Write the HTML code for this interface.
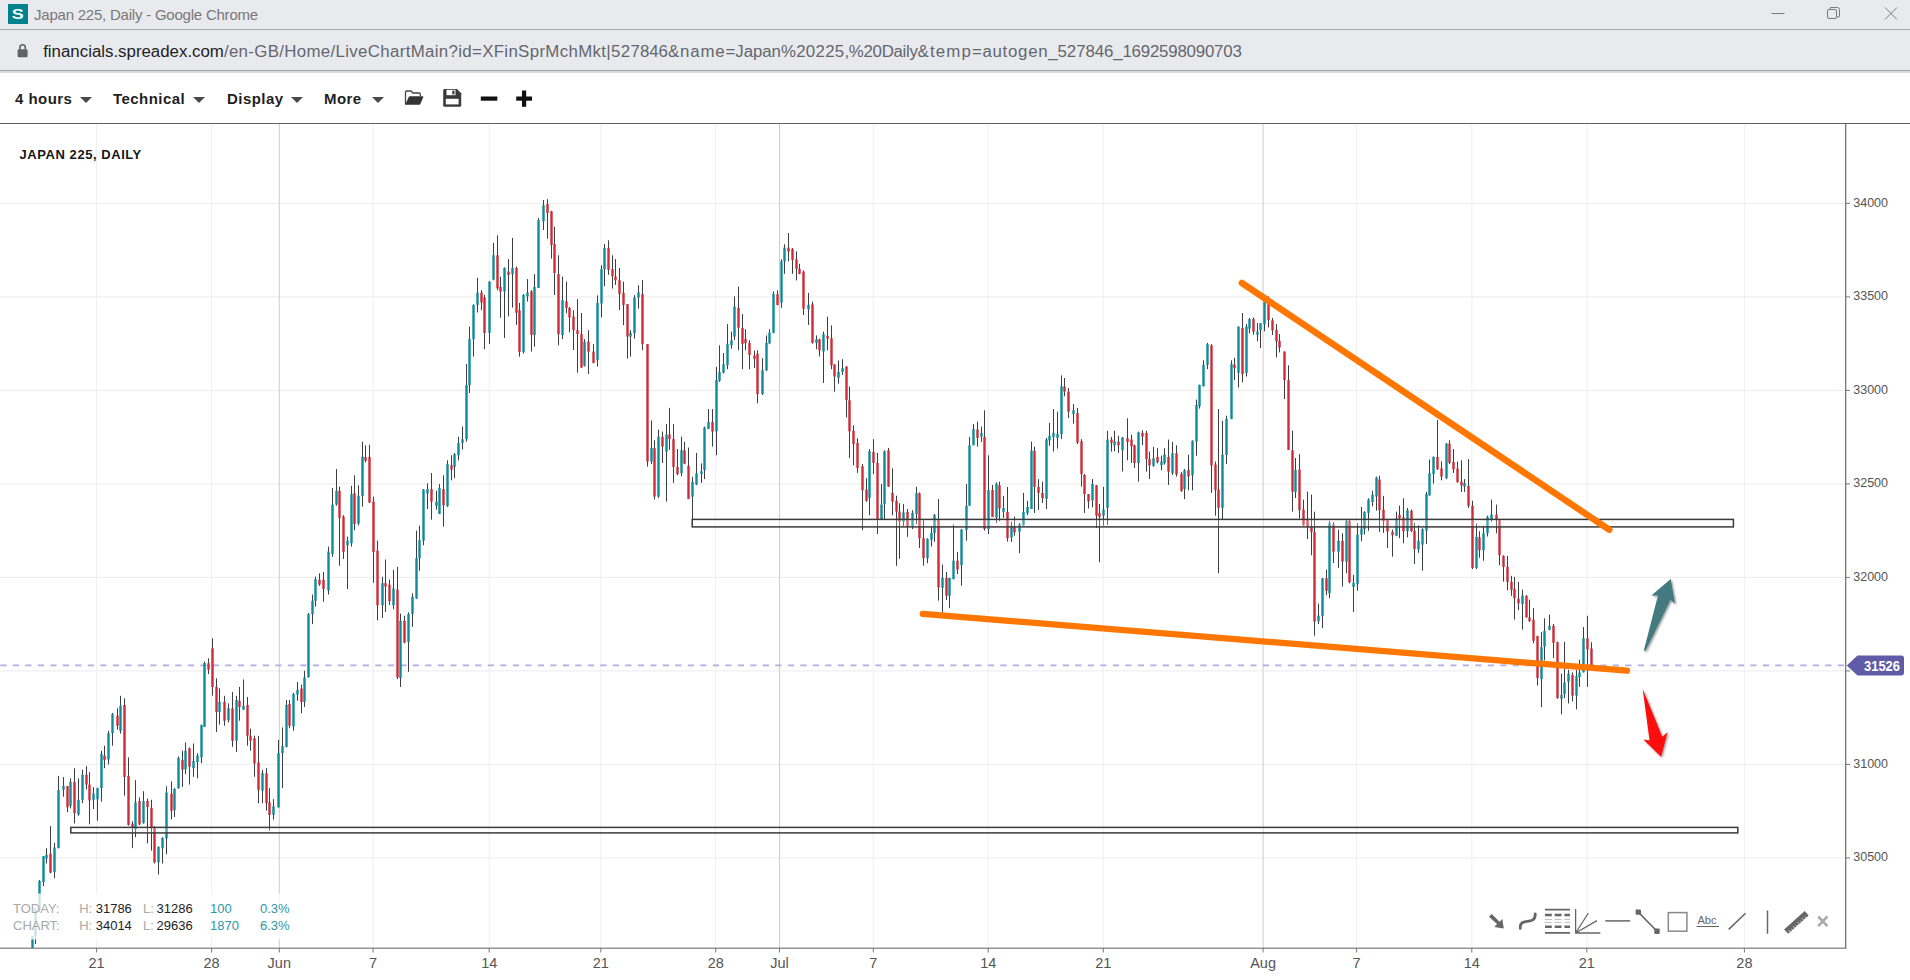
<!DOCTYPE html>
<html lang="en"><head><meta charset="utf-8"><title>Japan 225, Daily</title>
<style>
html,body{margin:0;padding:0;background:#fff;}
body{width:1910px;height:980px;overflow:hidden;position:relative;font-family:"Liberation Sans",sans-serif;}
#tb{position:absolute;left:0;top:0;width:1910px;height:29px;background:#e8eaee;border-bottom:1px solid #a9aaad;}
#fav{position:absolute;left:8px;top:4px;width:20px;height:20px;background:#00838f;color:#fff;font-weight:bold;font-size:14.6px;line-height:20.6px;text-align:center;}
#fav span{display:inline-block;transform:scaleX(1.26);}
#ttext{position:absolute;left:34px;top:5px;letter-spacing:-0.22px;font-size:15px;line-height:19px;color:#787878;white-space:nowrap;}
#ub{position:absolute;left:0;top:30px;width:1910px;height:40.3px;background:#e9eaee;border-bottom:1.1px solid #a3a4a7;}
#ub2{position:absolute;left:0;top:71.4px;width:1910px;height:1.2px;background:#dadbde;z-index:2;}
#url{position:absolute;left:43px;top:11px;font-size:16.85px;line-height:22px;color:#63676d;white-space:nowrap;left:43.2px}
#url b{font-weight:normal;color:#1f2125;letter-spacing:0px}
#tools{position:absolute;left:0;top:72px;width:1910px;height:51px;background:#fff;border-bottom:1.4px solid #606060;}
.mi{position:absolute;top:18px;letter-spacing:0.45px;font-weight:bold;font-size:15px;line-height:18px;color:#1f1f1f;white-space:nowrap;}
.car{position:absolute;top:25px;width:0;height:0;border-left:6px solid transparent;border-right:6px solid transparent;border-top:6.5px solid #4a4a4a;}
#chart{position:absolute;left:0;top:0;}
.yl{font:13.7px "Liberation Sans",sans-serif;fill:#555;}
.xl{font:14.5px "Liberation Sans",sans-serif;fill:#555;}
.pt{font:bold 14.3px "Liberation Sans",sans-serif;fill:#fff;}
.ttl{font:bold 13px "Liberation Sans",sans-serif;fill:#151515;letter-spacing:0.55px}
.st{font:13px "Liberation Sans",sans-serif;}
</style></head><body>
<div id="tb"><div id="fav"><span>S</span></div><div id="ttext">Japan 225, Daily - Google Chrome</div>
<svg style="position:absolute;left:1760px;top:0" width="150" height="29" viewBox="0 0 150 29" fill="none" stroke="#7a7a7a" stroke-width="1"><path d="M11.5 13.5H24.5"/><rect x="67.5" y="9.5" width="9" height="9" rx="1.5"/><path d="M70 9.5V8.5Q70 7.5 71 7.5H77.5Q79.5 7.5 79.5 9.500V16Q79.500 17 78.500 17H77"/><path d="M125 7.500L137 19.500M137 7.500L125 19.500"/></svg>
</div>
<div id="ub"><svg style="position:absolute;left:16px;top:13px" width="14" height="16" viewBox="0 0 14 16"><rect x="1.6" y="6.2" width="10" height="8" rx="1.2" fill="#5f6368"/><path d="M3.9 6.6V4.5a2.700 2.700 0 0 1 5.400 0V6.600" fill="none" stroke="#5f6368" stroke-width="1.600"/></svg>
<div id="url"><b>financials.spreadex.com</b><span style="letter-spacing:0.334px">/en-GB/Home/LiveChartMain?id=XFinSprMchMkt|527</span><span style="letter-spacing:-0.103px">846</span><span style="letter-spacing:0.865px">&amp;name</span><span style="letter-spacing:-0.072px">=Japan</span><span style="letter-spacing:0.295px">%20225</span><span style="letter-spacing:-0.305px">,%20Daily</span><span style="letter-spacing:1.122px">&amp;temp</span><span style="letter-spacing:0.708px">=autogen</span><span style="letter-spacing:-0.083px">_527846</span><span style="letter-spacing:-0.204px">_1692598090703</span></div></div>
<div id="ub2"></div>
<div id="tools">
<div class="mi" id="m1" style="left:15px">4 hours</div><div class="car" style="left:80px"></div>
<div class="mi" id="m2" style="left:113px">Technical</div><div class="car" style="left:193px"></div>
<div class="mi" id="m3" style="left:227px">Display</div><div class="car" style="left:291px"></div>
<div class="mi" id="m4" style="left:324px">More</div><div class="car" style="left:372px"></div>
<svg style="position:absolute;left:400px;top:14px" width="140" height="24" viewBox="400 86 140 24">
<path d="M405.500 104.500V92.300q0-1.300 1.300-1.300h4.200l1.800 2h6.200q1.300 0 1.300 1.300v1.700" fill="none" stroke="#444" stroke-width="1.300"/>
<path d="M405.200 104.800L408.600 97.200q.4-.900 1.400-.900h12.400q1.300 0 .8 1.200l-2.900 6.400q-.4.900-1.400.9z" fill="#333"/>
<path d="M443.200 90.500q0-1.500 1.500-1.500h12.300l4.200 4.200v12q0 1.500-1.500 1.500h-15q-1.500 0-1.500-1.500z" fill="#3a3a3a"/>
<rect x="446.500" y="89.800" width="9" height="5.400" fill="#fff"/><rect x="452.300" y="90.600" width="2.200" height="3.800" fill="#3a3a3a"/><rect x="445.800" y="98.800" width="12.800" height="5.600" fill="#fff"/>
<rect x="480.800" y="96.500" width="16.500" height="4.200" fill="#111"/>
<rect x="516.200" y="96.500" width="15.800" height="4.200" fill="#111"/><rect x="522" y="90.500" width="4.200" height="16.300" fill="#111"/>
</svg>
</div>
<svg id="chart" width="1910" height="980" viewBox="0 0 1910 980">
<defs><clipPath id="cp"><rect x="0" y="124" width="1846" height="824"/></clipPath><filter id="sh" x="-30%" y="-30%" width="160%" height="160%"><feDropShadow dx="1.2" dy="1.2" stdDeviation="1" flood-color="#000" flood-opacity="0.45"/></filter></defs>
<g shape-rendering="auto">
<rect x="0" y="857.4" width="1846" height="1" fill="#ececec"/>
<rect x="0" y="763.9" width="1846" height="1" fill="#ececec"/>
<rect x="0" y="670.4" width="1846" height="1" fill="#ececec"/>
<rect x="0" y="576.9" width="1846" height="1" fill="#ececec"/>
<rect x="0" y="483.4" width="1846" height="1" fill="#ececec"/>
<rect x="0" y="389.9" width="1846" height="1" fill="#ececec"/>
<rect x="0" y="296.4" width="1846" height="1" fill="#ececec"/>
<rect x="0" y="202.9" width="1846" height="1" fill="#ececec"/>
<rect x="96.1" y="124" width="1" height="824" fill="#efefef"/>
<rect x="211.1" y="124" width="1" height="824" fill="#efefef"/>
<rect x="278.8" y="124" width="1" height="824" fill="#cdcdcd"/>
<rect x="372.6" y="124" width="1" height="824" fill="#efefef"/>
<rect x="488.7" y="124" width="1" height="824" fill="#efefef"/>
<rect x="600.3" y="124" width="1" height="824" fill="#efefef"/>
<rect x="715.2" y="124" width="1" height="824" fill="#efefef"/>
<rect x="779.0" y="124" width="1" height="824" fill="#cdcdcd"/>
<rect x="872.8" y="124" width="1" height="824" fill="#efefef"/>
<rect x="987.7" y="124" width="1" height="824" fill="#efefef"/>
<rect x="1102.8" y="124" width="1" height="824" fill="#efefef"/>
<rect x="1262.6" y="124" width="1" height="824" fill="#cdcdcd"/>
<rect x="1356.1" y="124" width="1" height="824" fill="#efefef"/>
<rect x="1471.3" y="124" width="1" height="824" fill="#efefef"/>
<rect x="1586.3" y="124" width="1" height="824" fill="#efefef"/>
<rect x="1743.9" y="124" width="1" height="824" fill="#efefef"/>
</g>
<line x1="0" y1="665.4" x2="1846" y2="665.4" stroke="#b3acde" stroke-width="1.7" stroke-dasharray="6.2 6.3" stroke-dashoffset="-0.3"/>
<g clip-path="url(#cp)">
<g fill="#3b3f42"><rect x="32" y="936.0" width="1" height="14.0"/><rect x="35" y="908.0" width="1" height="36.0"/><rect x="39" y="880.0" width="1" height="32.0"/><rect x="43" y="856.1" width="1" height="29.9"/><rect x="46" y="848.2" width="1" height="15.3"/><rect x="50" y="826.1" width="1" height="47.2"/><rect x="54" y="842.7" width="1" height="35.5"/><rect x="58" y="775.9" width="1" height="72.3"/><rect x="63" y="777.1" width="1" height="19.6"/><rect x="67" y="786.0" width="1" height="26.1"/><rect x="70" y="778.4" width="1" height="30.0"/><rect x="74" y="768.3" width="1" height="55.1"/><rect x="78" y="778.4" width="1" height="37.4"/><rect x="82" y="769.8" width="1" height="33.3"/><rect x="86" y="766.1" width="1" height="23.3"/><rect x="89" y="772.2" width="1" height="52.1"/><rect x="93" y="787.2" width="1" height="21.8"/><rect x="97" y="787.6" width="1" height="33.1"/><rect x="101" y="750.7" width="1" height="50.9"/><rect x="104" y="745.7" width="1" height="22.5"/><rect x="108" y="730.7" width="1" height="33.8"/><rect x="112" y="712.9" width="1" height="32.8"/><rect x="117" y="708.3" width="1" height="21.3"/><rect x="120" y="695.8" width="1" height="37.8"/><rect x="124" y="698.3" width="1" height="97.3"/><rect x="128" y="757.4" width="1" height="68.2"/><rect x="132" y="821.2" width="1" height="26.9"/><rect x="135" y="780.2" width="1" height="57.0"/><rect x="139" y="797.4" width="1" height="27.6"/><rect x="143" y="791.2" width="1" height="32.5"/><rect x="147" y="798.6" width="1" height="44.7"/><rect x="151" y="799.8" width="1" height="50.8"/><rect x="154" y="826.1" width="1" height="37.4"/><rect x="158" y="846.3" width="1" height="28.2"/><rect x="162" y="837.2" width="1" height="26.3"/><rect x="166" y="786.3" width="1" height="68.0"/><rect x="171" y="781.4" width="1" height="38.0"/><rect x="174" y="788.2" width="1" height="28.8"/><rect x="178" y="756.5" width="1" height="31.9"/><rect x="182" y="750.7" width="1" height="36.2"/><rect x="185" y="742.4" width="1" height="31.8"/><rect x="189" y="747.4" width="1" height="37.1"/><rect x="193" y="743.5" width="1" height="33.3"/><rect x="197" y="753.2" width="1" height="25.1"/><rect x="201" y="724.6" width="1" height="38.6"/><rect x="204" y="661.6" width="1" height="65.3"/><rect x="208" y="658.3" width="1" height="15.8"/><rect x="212" y="638.3" width="1" height="57.4"/><rect x="216" y="678.3" width="1" height="53.6"/><rect x="219" y="688.3" width="1" height="36.3"/><rect x="224" y="695.8" width="1" height="30.0"/><rect x="228" y="703.3" width="1" height="19.1"/><rect x="232" y="691.9" width="1" height="54.9"/><rect x="236" y="695.8" width="1" height="56.1"/><rect x="239" y="686.9" width="1" height="33.8"/><rect x="243" y="679.4" width="1" height="30.5"/><rect x="247" y="696.9" width="1" height="48.8"/><rect x="250" y="728.6" width="1" height="22.1"/><rect x="254" y="735.7" width="1" height="41.1"/><rect x="258" y="735.8" width="1" height="67.5"/><rect x="262" y="769.9" width="1" height="33.3"/><rect x="266" y="768.2" width="1" height="42.5"/><rect x="269" y="788.2" width="1" height="42.5"/><rect x="273" y="799.1" width="1" height="20.5"/><rect x="278" y="739.9" width="1" height="67.5"/><rect x="282" y="727.4" width="1" height="60.8"/><rect x="286" y="699.9" width="1" height="47.5"/><rect x="289" y="699.9" width="1" height="28.3"/><rect x="293" y="692.9" width="1" height="37.8"/><rect x="297" y="682.1" width="1" height="18.6"/><rect x="301" y="684.6" width="1" height="28.6"/><rect x="304" y="670.8" width="1" height="36.1"/><rect x="308" y="612.9" width="1" height="64.5"/><rect x="312" y="594.6" width="1" height="29.5"/><rect x="315" y="576.6" width="1" height="30.0"/><rect x="319" y="573.3" width="1" height="12.5"/><rect x="323" y="571.9" width="1" height="29.8"/><rect x="328" y="546.6" width="1" height="47.9"/><rect x="332" y="487.9" width="1" height="68.9"/><rect x="336" y="469.1" width="1" height="36.6"/><rect x="339" y="486.6" width="1" height="79.1"/><rect x="343" y="515.2" width="1" height="43.8"/><rect x="347" y="536.6" width="1" height="52.4"/><rect x="351" y="485.8" width="1" height="60.8"/><rect x="354" y="475.3" width="1" height="54.9"/><rect x="358" y="485.3" width="1" height="40.0"/><rect x="362" y="441.7" width="1" height="64.9"/><rect x="365" y="445.3" width="1" height="17.1"/><rect x="369" y="444.7" width="1" height="58.3"/><rect x="373" y="496.6" width="1" height="86.2"/><rect x="377" y="540.7" width="1" height="79.6"/><rect x="382" y="576.9" width="1" height="41.0"/><rect x="385" y="559.5" width="1" height="52.4"/><rect x="389" y="579.6" width="1" height="25.4"/><rect x="393" y="569.8" width="1" height="39.4"/><rect x="397" y="566.9" width="1" height="112.2"/><rect x="400" y="613.6" width="1" height="73.3"/><rect x="404" y="615.8" width="1" height="27.5"/><rect x="408" y="612.4" width="1" height="59.4"/><rect x="412" y="593.3" width="1" height="33.6"/><rect x="416" y="530.7" width="1" height="68.4"/><rect x="419" y="525.7" width="1" height="45.0"/><rect x="423" y="489.1" width="1" height="56.1"/><rect x="427" y="483.3" width="1" height="25.8"/><rect x="431" y="473.0" width="1" height="46.6"/><rect x="436" y="490.8" width="1" height="18.8"/><rect x="439" y="484.1" width="1" height="30.0"/><rect x="443" y="475.3" width="1" height="51.3"/><rect x="447" y="460.3" width="1" height="46.6"/><rect x="451" y="455.3" width="1" height="25.0"/><rect x="454" y="453.0" width="1" height="25.3"/><rect x="458" y="436.7" width="1" height="23.6"/><rect x="462" y="426.5" width="1" height="23.1"/><rect x="466" y="364.1" width="1" height="77.5"/><rect x="469" y="326.6" width="1" height="66.3"/><rect x="473" y="304.2" width="1" height="52.4"/><rect x="477" y="277.9" width="1" height="34.5"/><rect x="481" y="290.2" width="1" height="19.9"/><rect x="484" y="294.8" width="1" height="54.3"/><rect x="489" y="281.2" width="1" height="62.8"/><rect x="493" y="242.9" width="1" height="37.3"/><rect x="497" y="235.3" width="1" height="54.9"/><rect x="500" y="276.6" width="1" height="41.1"/><rect x="504" y="267.4" width="1" height="70.5"/><rect x="508" y="259.1" width="1" height="57.3"/><rect x="512" y="237.9" width="1" height="69.7"/><rect x="516" y="266.6" width="1" height="58.3"/><rect x="519" y="302.9" width="1" height="53.7"/><rect x="523" y="294.1" width="1" height="59.5"/><rect x="527" y="279.1" width="1" height="22.4"/><rect x="531" y="290.2" width="1" height="61.4"/><rect x="534" y="274.1" width="1" height="72.5"/><rect x="538" y="218.0" width="1" height="69.9"/><rect x="543" y="200.0" width="1" height="30.0"/><rect x="547" y="199.2" width="1" height="39.5"/><rect x="551" y="210.8" width="1" height="47.8"/><rect x="554" y="226.6" width="1" height="68.5"/><rect x="558" y="255.3" width="1" height="90.0"/><rect x="562" y="276.6" width="1" height="62.5"/><rect x="566" y="281.6" width="1" height="31.7"/><rect x="569" y="307.0" width="1" height="25.4"/><rect x="573" y="310.3" width="1" height="39.7"/><rect x="577" y="299.1" width="1" height="73.6"/><rect x="581" y="312.9" width="1" height="55.0"/><rect x="584" y="339.1" width="1" height="27.5"/><rect x="588" y="330.2" width="1" height="43.8"/><rect x="593" y="344.1" width="1" height="19.2"/><rect x="597" y="295.3" width="1" height="71.3"/><rect x="601" y="265.3" width="1" height="52.2"/><rect x="604" y="244.1" width="1" height="42.1"/><rect x="608" y="240.3" width="1" height="34.6"/><rect x="612" y="255.3" width="1" height="33.3"/><rect x="615" y="259.1" width="1" height="25.8"/><rect x="619" y="267.9" width="1" height="42.2"/><rect x="623" y="281.6" width="1" height="43.5"/><rect x="627" y="304.1" width="1" height="54.5"/><rect x="630" y="330.1" width="1" height="26.5"/><rect x="634" y="295.1" width="1" height="43.5"/><rect x="638" y="285.2" width="1" height="23.4"/><rect x="642" y="280.2" width="1" height="70.0"/><rect x="647" y="344.1" width="1" height="122.5"/><rect x="651" y="420.5" width="1" height="43.6"/><rect x="654" y="440.3" width="1" height="59.2"/><rect x="658" y="429.6" width="1" height="68.3"/><rect x="662" y="431.6" width="1" height="31.4"/><rect x="666" y="424.1" width="1" height="77.5"/><rect x="669" y="407.9" width="1" height="42.0"/><rect x="673" y="424.1" width="1" height="58.8"/><rect x="677" y="449.1" width="1" height="26.1"/><rect x="681" y="436.7" width="1" height="39.5"/><rect x="684" y="441.7" width="1" height="22.4"/><rect x="688" y="447.6" width="1" height="51.4"/><rect x="692" y="476.9" width="1" height="42.1"/><rect x="696" y="452.9" width="1" height="32.3"/><rect x="701" y="463.3" width="1" height="19.6"/><rect x="704" y="426.6" width="1" height="52.5"/><rect x="708" y="409.1" width="1" height="20.0"/><rect x="712" y="409.1" width="1" height="37.5"/><rect x="716" y="366.8" width="1" height="88.5"/><rect x="719" y="345.3" width="1" height="36.5"/><rect x="723" y="353.1" width="1" height="20.4"/><rect x="727" y="324.2" width="1" height="45.0"/><rect x="731" y="331.6" width="1" height="17.1"/><rect x="734" y="296.4" width="1" height="43.7"/><rect x="738" y="286.6" width="1" height="63.6"/><rect x="742" y="314.1" width="1" height="55.0"/><rect x="745" y="329.2" width="1" height="21.1"/><rect x="749" y="340.2" width="1" height="29.0"/><rect x="754" y="350.6" width="1" height="17.3"/><rect x="757" y="350.3" width="1" height="52.9"/><rect x="762" y="358.2" width="1" height="36.8"/><rect x="766" y="335.4" width="1" height="35.5"/><rect x="769" y="329.2" width="1" height="15.0"/><rect x="773" y="291.3" width="1" height="42.0"/><rect x="777" y="290.4" width="1" height="15.0"/><rect x="781" y="259.3" width="1" height="48.6"/><rect x="784" y="244.3" width="1" height="29.5"/><rect x="788" y="233.0" width="1" height="28.3"/><rect x="792" y="248.0" width="1" height="25.8"/><rect x="796" y="251.3" width="1" height="29.1"/><rect x="799" y="263.8" width="1" height="10.5"/><rect x="803" y="270.5" width="1" height="44.5"/><rect x="808" y="292.9" width="1" height="32.0"/><rect x="812" y="301.6" width="1" height="42.1"/><rect x="816" y="335.4" width="1" height="13.8"/><rect x="819" y="338.7" width="1" height="17.8"/><rect x="823" y="331.6" width="1" height="51.3"/><rect x="827" y="316.6" width="1" height="33.8"/><rect x="831" y="325.4" width="1" height="43.8"/><rect x="834" y="364.2" width="1" height="27.5"/><rect x="838" y="360.4" width="1" height="23.3"/><rect x="842" y="359.2" width="1" height="15.7"/><rect x="846" y="366.2" width="1" height="51.3"/><rect x="849" y="386.5" width="1" height="71.4"/><rect x="853" y="425.3" width="1" height="40.0"/><rect x="857" y="438.3" width="1" height="34.6"/><rect x="862" y="464.1" width="1" height="66.1"/><rect x="866" y="478.2" width="1" height="23.6"/><rect x="869" y="449.1" width="1" height="66.1"/><rect x="873" y="439.1" width="1" height="35.0"/><rect x="877" y="452.9" width="1" height="81.1"/><rect x="881" y="484.1" width="1" height="35.0"/><rect x="884" y="450.3" width="1" height="68.8"/><rect x="888" y="447.9" width="1" height="39.0"/><rect x="892" y="468.3" width="1" height="47.0"/><rect x="896" y="495.7" width="1" height="70.1"/><rect x="899" y="503.2" width="1" height="55.6"/><rect x="903" y="504.1" width="1" height="22.5"/><rect x="907" y="509.0" width="1" height="27.8"/><rect x="912" y="510.2" width="1" height="18.8"/><rect x="916" y="486.6" width="1" height="37.5"/><rect x="919" y="492.4" width="1" height="55.6"/><rect x="923" y="519.9" width="1" height="45.8"/><rect x="927" y="538.2" width="1" height="25.0"/><rect x="931" y="526.9" width="1" height="19.6"/><rect x="934" y="514.1" width="1" height="27.6"/><rect x="938" y="499.1" width="1" height="101.6"/><rect x="942" y="564.5" width="1" height="48.1"/><rect x="946" y="571.9" width="1" height="28.0"/><rect x="949" y="577.9" width="1" height="30.3"/><rect x="953" y="524.6" width="1" height="54.9"/><rect x="957" y="551.9" width="1" height="22.1"/><rect x="961" y="529.1" width="1" height="56.6"/><rect x="966" y="484.1" width="1" height="56.6"/><rect x="969" y="436.9" width="1" height="68.8"/><rect x="973" y="424.1" width="1" height="21.1"/><rect x="977" y="421.6" width="1" height="25.0"/><rect x="981" y="426.6" width="1" height="15.3"/><rect x="984" y="410.3" width="1" height="120.3"/><rect x="988" y="455.3" width="1" height="78.8"/><rect x="992" y="485.0" width="1" height="32.0"/><rect x="996" y="482.5" width="1" height="40.5"/><rect x="999" y="481.6" width="1" height="39.6"/><rect x="1003" y="495.8" width="1" height="22.1"/><rect x="1007" y="487.0" width="1" height="54.6"/><rect x="1011" y="521.6" width="1" height="20.3"/><rect x="1014" y="516.6" width="1" height="19.1"/><rect x="1019" y="522.9" width="1" height="30.3"/><rect x="1023" y="492.9" width="1" height="32.8"/><rect x="1027" y="500.8" width="1" height="14.5"/><rect x="1031" y="441.6" width="1" height="67.4"/><rect x="1034" y="446.6" width="1" height="66.3"/><rect x="1038" y="479.1" width="1" height="30.8"/><rect x="1042" y="481.6" width="1" height="21.3"/><rect x="1046" y="437.9" width="1" height="71.1"/><rect x="1049" y="422.9" width="1" height="22.8"/><rect x="1053" y="409.1" width="1" height="42.5"/><rect x="1057" y="411.6" width="1" height="37.0"/><rect x="1061" y="375.3" width="1" height="63.8"/><rect x="1064" y="378.0" width="1" height="18.3"/><rect x="1068" y="388.0" width="1" height="30.0"/><rect x="1073" y="404.1" width="1" height="19.5"/><rect x="1077" y="408.0" width="1" height="36.1"/><rect x="1081" y="439.1" width="1" height="47.5"/><rect x="1084" y="474.1" width="1" height="38.8"/><rect x="1088" y="494.0" width="1" height="14.5"/><rect x="1092" y="479.1" width="1" height="28.3"/><rect x="1096" y="484.9" width="1" height="43.0"/><rect x="1099" y="504.0" width="1" height="58.1"/><rect x="1103" y="486.9" width="1" height="38.8"/><rect x="1107" y="430.8" width="1" height="94.1"/><rect x="1111" y="436.9" width="1" height="14.7"/><rect x="1114" y="430.8" width="1" height="20.5"/><rect x="1118" y="435.8" width="1" height="17.1"/><rect x="1122" y="436.9" width="1" height="34.6"/><rect x="1127" y="418.3" width="1" height="42.0"/><rect x="1131" y="434.6" width="1" height="28.3"/><rect x="1134" y="444.6" width="1" height="23.3"/><rect x="1138" y="431.6" width="1" height="50.0"/><rect x="1142" y="430.3" width="1" height="14.7"/><rect x="1146" y="430.8" width="1" height="40.8"/><rect x="1149" y="451.6" width="1" height="27.5"/><rect x="1153" y="446.9" width="1" height="20.0"/><rect x="1157" y="448.3" width="1" height="15.0"/><rect x="1161" y="455.7" width="1" height="14.5"/><rect x="1164" y="448.3" width="1" height="16.3"/><rect x="1168" y="439.6" width="1" height="45.3"/><rect x="1172" y="441.9" width="1" height="33.0"/><rect x="1176" y="445.3" width="1" height="31.3"/><rect x="1181" y="471.9" width="1" height="20.0"/><rect x="1184" y="469.1" width="1" height="30.0"/><rect x="1188" y="454.6" width="1" height="35.6"/><rect x="1192" y="440.3" width="1" height="50.0"/><rect x="1196" y="399.6" width="1" height="56.1"/><rect x="1199" y="384.6" width="1" height="24.0"/><rect x="1203" y="360.3" width="1" height="26.3"/><rect x="1207" y="342.9" width="1" height="26.1"/><rect x="1211" y="344.1" width="1" height="148.8"/><rect x="1215" y="461.6" width="1" height="54.1"/><rect x="1218" y="409.1" width="1" height="164.0"/><rect x="1222" y="420.8" width="1" height="98.7"/><rect x="1226" y="415.7" width="1" height="48.3"/><rect x="1231" y="360.3" width="1" height="58.8"/><rect x="1234" y="357.9" width="1" height="22.3"/><rect x="1238" y="326.6" width="1" height="60.8"/><rect x="1242" y="313.0" width="1" height="69.4"/><rect x="1246" y="324.1" width="1" height="52.4"/><rect x="1249" y="318.0" width="1" height="15.3"/><rect x="1253" y="317.5" width="1" height="17.1"/><rect x="1257" y="323.0" width="1" height="18.3"/><rect x="1260" y="323.0" width="1" height="25.0"/><rect x="1264" y="299.2" width="1" height="32.1"/><rect x="1268" y="296.3" width="1" height="31.1"/><rect x="1272" y="318.0" width="1" height="17.0"/><rect x="1276" y="324.1" width="1" height="33.3"/><rect x="1279" y="334.1" width="1" height="18.3"/><rect x="1284" y="351.3" width="1" height="47.8"/><rect x="1288" y="365.3" width="1" height="84.7"/><rect x="1292" y="430.5" width="1" height="81.1"/><rect x="1295" y="458.0" width="1" height="40.0"/><rect x="1299" y="454.1" width="1" height="64.4"/><rect x="1303" y="499.6" width="1" height="26.1"/><rect x="1307" y="491.6" width="1" height="47.5"/><rect x="1311" y="494.6" width="1" height="60.6"/><rect x="1314" y="511.7" width="1" height="124.0"/><rect x="1318" y="603.6" width="1" height="20.5"/><rect x="1322" y="577.9" width="1" height="50.3"/><rect x="1326" y="569.6" width="1" height="25.6"/><rect x="1329" y="520.8" width="1" height="77.4"/><rect x="1333" y="522.0" width="1" height="41.0"/><rect x="1338" y="529.6" width="1" height="38.3"/><rect x="1342" y="533.3" width="1" height="53.3"/><rect x="1346" y="520.0" width="1" height="53.3"/><rect x="1349" y="520.0" width="1" height="63.3"/><rect x="1353" y="574.9" width="1" height="37.0"/><rect x="1357" y="523.3" width="1" height="67.4"/><rect x="1361" y="506.9" width="1" height="34.3"/><rect x="1364" y="511.2" width="1" height="23.3"/><rect x="1368" y="498.3" width="1" height="32.5"/><rect x="1372" y="490.8" width="1" height="15.5"/><rect x="1376" y="476.6" width="1" height="34.1"/><rect x="1379" y="475.8" width="1" height="56.1"/><rect x="1383" y="495.8" width="1" height="37.1"/><rect x="1387" y="519.6" width="1" height="28.3"/><rect x="1392" y="529.6" width="1" height="27.0"/><rect x="1396" y="511.6" width="1" height="24.6"/><rect x="1399" y="505.7" width="1" height="32.5"/><rect x="1403" y="498.3" width="1" height="45.0"/><rect x="1407" y="507.9" width="1" height="29.5"/><rect x="1411" y="509.6" width="1" height="22.3"/><rect x="1414" y="523.2" width="1" height="40.8"/><rect x="1418" y="525.2" width="1" height="27.6"/><rect x="1422" y="528.2" width="1" height="42.5"/><rect x="1426" y="491.9" width="1" height="52.1"/><rect x="1429" y="459.6" width="1" height="36.1"/><rect x="1433" y="456.3" width="1" height="27.3"/><rect x="1437" y="420.0" width="1" height="50.0"/><rect x="1441" y="461.3" width="1" height="19.0"/><rect x="1446" y="443.0" width="1" height="36.1"/><rect x="1449" y="440.3" width="1" height="23.8"/><rect x="1453" y="449.1" width="1" height="23.8"/><rect x="1457" y="461.6" width="1" height="21.3"/><rect x="1461" y="460.3" width="1" height="31.6"/><rect x="1464" y="479.1" width="1" height="12.8"/><rect x="1468" y="459.1" width="1" height="48.8"/><rect x="1472" y="500.8" width="1" height="68.3"/><rect x="1476" y="523.6" width="1" height="45.5"/><rect x="1479" y="531.2" width="1" height="26.6"/><rect x="1483" y="525.7" width="1" height="35.0"/><rect x="1487" y="515.7" width="1" height="20.8"/><rect x="1491" y="499.6" width="1" height="22.0"/><rect x="1496" y="504.6" width="1" height="28.6"/><rect x="1499" y="519.1" width="1" height="46.1"/><rect x="1503" y="555.3" width="1" height="26.3"/><rect x="1507" y="555.8" width="1" height="34.5"/><rect x="1511" y="575.8" width="1" height="20.0"/><rect x="1514" y="576.9" width="1" height="42.6"/><rect x="1518" y="581.9" width="1" height="28.3"/><rect x="1522" y="589.6" width="1" height="40.0"/><rect x="1526" y="595.2" width="1" height="22.6"/><rect x="1529" y="599.6" width="1" height="22.3"/><rect x="1533" y="608.2" width="1" height="35.0"/><rect x="1537" y="635.9" width="1" height="49.6"/><rect x="1541" y="632.1" width="1" height="75.0"/><rect x="1544" y="618.3" width="1" height="42.1"/><rect x="1549" y="614.6" width="1" height="15.7"/><rect x="1553" y="624.0" width="1" height="33.9"/><rect x="1557" y="641.6" width="1" height="57.2"/><rect x="1561" y="673.6" width="1" height="40.7"/><rect x="1564" y="641.8" width="1" height="56.3"/><rect x="1568" y="669.8" width="1" height="33.6"/><rect x="1572" y="672.4" width="1" height="28.9"/><rect x="1576" y="669.8" width="1" height="39.5"/><rect x="1579" y="659.8" width="1" height="27.0"/><rect x="1583" y="627.1" width="1" height="45.2"/><rect x="1587" y="615.8" width="1" height="71.0"/><rect x="1591" y="642.2" width="1" height="24.5"/></g>
<g><rect x="31.3" y="936.0" width="2.4" height="14.0" fill="#0d8b9b"/><rect x="34.3" y="910.0" width="2.4" height="26.0" fill="#0d8b9b"/><rect x="38.3" y="881.0" width="2.4" height="29.0" fill="#0d8b9b"/><rect x="42.3" y="856.1" width="2.4" height="25.9" fill="#0d8b9b"/><rect x="45.3" y="854.9" width="2.4" height="3.7" fill="#0d8b9b"/><rect x="49.3" y="853.7" width="2.4" height="19.0" fill="#cc2b37"/><rect x="53.3" y="847.6" width="2.4" height="24.5" fill="#0d8b9b"/><rect x="57.3" y="790.0" width="2.4" height="58.2" fill="#0d8b9b"/><rect x="62.3" y="786.0" width="2.4" height="3.7" fill="#0d8b9b"/><rect x="66.3" y="786.0" width="2.4" height="21.2" fill="#cc2b37"/><rect x="69.3" y="782.0" width="2.4" height="23.9" fill="#0d8b9b"/><rect x="73.3" y="782.0" width="2.4" height="31.2" fill="#cc2b37"/><rect x="77.3" y="799.8" width="2.4" height="14.7" fill="#0d8b9b"/><rect x="81.3" y="774.7" width="2.4" height="25.1" fill="#0d8b9b"/><rect x="85.3" y="774.7" width="2.4" height="9.8" fill="#cc2b37"/><rect x="88.3" y="784.5" width="2.4" height="15.9" fill="#cc2b37"/><rect x="92.3" y="793.7" width="2.4" height="6.1" fill="#0d8b9b"/><rect x="96.3" y="788.2" width="2.4" height="11.0" fill="#0d8b9b"/><rect x="100.3" y="754.0" width="2.4" height="34.1" fill="#0d8b9b"/><rect x="103.3" y="755.7" width="2.4" height="4.2" fill="#cc2b37"/><rect x="107.3" y="733.2" width="2.4" height="26.3" fill="#0d8b9b"/><rect x="111.3" y="714.1" width="2.4" height="19.1" fill="#0d8b9b"/><rect x="116.3" y="715.7" width="2.4" height="10.0" fill="#cc2b37"/><rect x="119.3" y="705.8" width="2.4" height="25.0" fill="#0d8b9b"/><rect x="123.3" y="704.9" width="2.4" height="72.0" fill="#cc2b37"/><rect x="127.3" y="775.8" width="2.4" height="49.1" fill="#cc2b37"/><rect x="131.3" y="823.7" width="2.4" height="3.7" fill="#cc2b37"/><rect x="134.3" y="802.3" width="2.4" height="26.9" fill="#0d8b9b"/><rect x="138.3" y="801.0" width="2.4" height="23.3" fill="#cc2b37"/><rect x="142.3" y="801.0" width="2.4" height="22.0" fill="#0d8b9b"/><rect x="146.3" y="801.0" width="2.4" height="6.1" fill="#cc2b37"/><rect x="150.3" y="807.8" width="2.4" height="19.6" fill="#cc2b37"/><rect x="153.3" y="828.0" width="2.4" height="34.3" fill="#cc2b37"/><rect x="157.3" y="847.0" width="2.4" height="15.3" fill="#0d8b9b"/><rect x="161.3" y="837.8" width="2.4" height="10.4" fill="#0d8b9b"/><rect x="165.3" y="792.5" width="2.4" height="45.9" fill="#0d8b9b"/><rect x="170.3" y="793.7" width="2.4" height="17.1" fill="#cc2b37"/><rect x="173.3" y="788.8" width="2.4" height="21.4" fill="#0d8b9b"/><rect x="177.3" y="757.9" width="2.4" height="30.5" fill="#0d8b9b"/><rect x="181.3" y="759.9" width="2.4" height="9.7" fill="#cc2b37"/><rect x="184.3" y="750.7" width="2.4" height="18.6" fill="#0d8b9b"/><rect x="188.3" y="748.2" width="2.4" height="18.4" fill="#cc2b37"/><rect x="192.3" y="760.9" width="2.4" height="7.3" fill="#0d8b9b"/><rect x="196.3" y="755.7" width="2.4" height="6.4" fill="#0d8b9b"/><rect x="200.3" y="724.9" width="2.4" height="32.5" fill="#0d8b9b"/><rect x="203.3" y="663.0" width="2.4" height="63.9" fill="#0d8b9b"/><rect x="207.3" y="663.3" width="2.4" height="6.3" fill="#cc2b37"/><rect x="211.3" y="648.3" width="2.4" height="38.6" fill="#cc2b37"/><rect x="215.3" y="686.9" width="2.4" height="25.0" fill="#cc2b37"/><rect x="218.3" y="701.9" width="2.4" height="10.0" fill="#0d8b9b"/><rect x="223.3" y="701.9" width="2.4" height="18.8" fill="#cc2b37"/><rect x="227.3" y="708.3" width="2.4" height="12.0" fill="#0d8b9b"/><rect x="231.3" y="708.3" width="2.4" height="32.5" fill="#cc2b37"/><rect x="235.3" y="699.9" width="2.4" height="40.8" fill="#0d8b9b"/><rect x="238.3" y="700.8" width="2.4" height="6.2" fill="#cc2b37"/><rect x="242.3" y="705.8" width="2.4" height="3.8" fill="#0d8b9b"/><rect x="246.3" y="704.9" width="2.4" height="30.8" fill="#cc2b37"/><rect x="249.3" y="735.7" width="2.4" height="5.0" fill="#cc2b37"/><rect x="253.3" y="738.2" width="2.4" height="25.3" fill="#cc2b37"/><rect x="257.3" y="762.4" width="2.4" height="27.5" fill="#cc2b37"/><rect x="261.3" y="773.2" width="2.4" height="17.5" fill="#0d8b9b"/><rect x="265.3" y="773.2" width="2.4" height="30.0" fill="#cc2b37"/><rect x="268.3" y="802.4" width="2.4" height="12.5" fill="#cc2b37"/><rect x="272.3" y="806.2" width="2.4" height="8.7" fill="#0d8b9b"/><rect x="277.3" y="753.2" width="2.4" height="54.2" fill="#0d8b9b"/><rect x="281.3" y="746.2" width="2.4" height="7.0" fill="#0d8b9b"/><rect x="285.3" y="704.9" width="2.4" height="42.0" fill="#0d8b9b"/><rect x="288.3" y="704.1" width="2.4" height="21.6" fill="#cc2b37"/><rect x="292.3" y="694.1" width="2.4" height="32.5" fill="#0d8b9b"/><rect x="296.3" y="689.9" width="2.4" height="4.7" fill="#0d8b9b"/><rect x="300.3" y="688.6" width="2.4" height="13.3" fill="#cc2b37"/><rect x="303.3" y="677.4" width="2.4" height="24.5" fill="#0d8b9b"/><rect x="307.3" y="614.1" width="2.4" height="63.3" fill="#0d8b9b"/><rect x="311.3" y="600.8" width="2.4" height="13.3" fill="#0d8b9b"/><rect x="314.3" y="579.1" width="2.4" height="21.7" fill="#0d8b9b"/><rect x="318.3" y="579.7" width="2.4" height="4.8" fill="#cc2b37"/><rect x="322.3" y="579.7" width="2.4" height="9.3" fill="#cc2b37"/><rect x="327.3" y="551.5" width="2.4" height="38.9" fill="#0d8b9b"/><rect x="331.3" y="504.6" width="2.4" height="49.5" fill="#0d8b9b"/><rect x="335.3" y="490.8" width="2.4" height="13.8" fill="#0d8b9b"/><rect x="338.3" y="490.8" width="2.4" height="27.1" fill="#cc2b37"/><rect x="342.3" y="516.6" width="2.4" height="35.3" fill="#cc2b37"/><rect x="346.3" y="540.7" width="2.4" height="4.5" fill="#0d8b9b"/><rect x="350.3" y="494.1" width="2.4" height="49.1" fill="#0d8b9b"/><rect x="353.3" y="493.3" width="2.4" height="30.8" fill="#cc2b37"/><rect x="357.3" y="495.8" width="2.4" height="27.8" fill="#0d8b9b"/><rect x="361.3" y="456.6" width="2.4" height="39.6" fill="#0d8b9b"/><rect x="364.3" y="457.0" width="2.4" height="3.8" fill="#cc2b37"/><rect x="368.3" y="457.0" width="2.4" height="45.5" fill="#cc2b37"/><rect x="372.3" y="501.6" width="2.4" height="50.3" fill="#cc2b37"/><rect x="376.3" y="550.7" width="2.4" height="54.6" fill="#cc2b37"/><rect x="381.3" y="583.2" width="2.4" height="22.0" fill="#0d8b9b"/><rect x="384.3" y="583.2" width="2.4" height="3.3" fill="#cc2b37"/><rect x="388.3" y="584.7" width="2.4" height="16.5" fill="#cc2b37"/><rect x="392.3" y="588.4" width="2.4" height="16.9" fill="#0d8b9b"/><rect x="396.3" y="589.6" width="2.4" height="87.8" fill="#cc2b37"/><rect x="399.3" y="620.8" width="2.4" height="57.3" fill="#0d8b9b"/><rect x="403.3" y="620.8" width="2.4" height="21.9" fill="#cc2b37"/><rect x="407.3" y="614.1" width="2.4" height="27.8" fill="#0d8b9b"/><rect x="411.3" y="597.0" width="2.4" height="17.1" fill="#0d8b9b"/><rect x="415.3" y="558.2" width="2.4" height="40.1" fill="#0d8b9b"/><rect x="418.3" y="540.2" width="2.4" height="18.0" fill="#0d8b9b"/><rect x="422.3" y="489.6" width="2.4" height="51.1" fill="#0d8b9b"/><rect x="426.3" y="489.1" width="2.4" height="4.5" fill="#0d8b9b"/><rect x="430.3" y="489.1" width="2.4" height="12.5" fill="#cc2b37"/><rect x="435.3" y="501.6" width="2.4" height="4.2" fill="#0d8b9b"/><rect x="438.3" y="487.9" width="2.4" height="26.1" fill="#0d8b9b"/><rect x="442.3" y="489.1" width="2.4" height="16.2" fill="#cc2b37"/><rect x="446.3" y="464.1" width="2.4" height="42.1" fill="#0d8b9b"/><rect x="450.3" y="465.3" width="2.4" height="4.3" fill="#cc2b37"/><rect x="453.3" y="454.1" width="2.4" height="12.8" fill="#0d8b9b"/><rect x="457.3" y="443.0" width="2.4" height="12.3" fill="#0d8b9b"/><rect x="461.3" y="439.3" width="2.4" height="3.6" fill="#0d8b9b"/><rect x="465.3" y="385.2" width="2.4" height="54.1" fill="#0d8b9b"/><rect x="468.3" y="339.1" width="2.4" height="46.1" fill="#0d8b9b"/><rect x="472.3" y="305.0" width="2.4" height="34.1" fill="#0d8b9b"/><rect x="476.3" y="292.7" width="2.4" height="12.2" fill="#0d8b9b"/><rect x="480.3" y="292.7" width="2.4" height="9.7" fill="#cc2b37"/><rect x="483.3" y="297.4" width="2.4" height="35.5" fill="#cc2b37"/><rect x="488.3" y="281.6" width="2.4" height="51.3" fill="#0d8b9b"/><rect x="492.3" y="255.3" width="2.4" height="24.3" fill="#0d8b9b"/><rect x="496.3" y="255.3" width="2.4" height="33.0" fill="#cc2b37"/><rect x="499.3" y="286.9" width="2.4" height="4.7" fill="#cc2b37"/><rect x="503.3" y="267.9" width="2.4" height="23.6" fill="#0d8b9b"/><rect x="507.3" y="271.6" width="2.4" height="3.3" fill="#cc2b37"/><rect x="511.3" y="267.9" width="2.4" height="6.2" fill="#0d8b9b"/><rect x="515.3" y="267.9" width="2.4" height="44.8" fill="#cc2b37"/><rect x="518.3" y="310.3" width="2.4" height="41.7" fill="#cc2b37"/><rect x="522.3" y="294.8" width="2.4" height="57.2" fill="#0d8b9b"/><rect x="526.3" y="292.7" width="2.4" height="3.7" fill="#0d8b9b"/><rect x="530.3" y="291.4" width="2.4" height="43.5" fill="#cc2b37"/><rect x="533.3" y="286.9" width="2.4" height="48.0" fill="#0d8b9b"/><rect x="537.3" y="220.0" width="2.4" height="67.9" fill="#0d8b9b"/><rect x="542.3" y="205.3" width="2.4" height="16.0" fill="#0d8b9b"/><rect x="546.3" y="204.1" width="2.4" height="8.8" fill="#cc2b37"/><rect x="550.3" y="211.3" width="2.4" height="33.6" fill="#cc2b37"/><rect x="553.3" y="244.1" width="2.4" height="28.8" fill="#cc2b37"/><rect x="557.3" y="274.1" width="2.4" height="60.0" fill="#cc2b37"/><rect x="561.3" y="300.1" width="2.4" height="35.0" fill="#0d8b9b"/><rect x="565.3" y="301.4" width="2.4" height="6.5" fill="#cc2b37"/><rect x="568.3" y="307.9" width="2.4" height="9.5" fill="#cc2b37"/><rect x="572.3" y="316.6" width="2.4" height="13.5" fill="#cc2b37"/><rect x="576.3" y="330.2" width="2.4" height="3.8" fill="#cc2b37"/><rect x="580.3" y="334.1" width="2.4" height="33.4" fill="#cc2b37"/><rect x="583.3" y="341.6" width="2.4" height="24.1" fill="#0d8b9b"/><rect x="587.3" y="341.6" width="2.4" height="10.0" fill="#cc2b37"/><rect x="592.3" y="351.6" width="2.4" height="11.3" fill="#cc2b37"/><rect x="596.3" y="302.9" width="2.4" height="57.0" fill="#0d8b9b"/><rect x="600.3" y="269.1" width="2.4" height="34.5" fill="#0d8b9b"/><rect x="603.3" y="247.9" width="2.4" height="21.1" fill="#0d8b9b"/><rect x="607.3" y="247.9" width="2.4" height="22.0" fill="#cc2b37"/><rect x="611.3" y="269.1" width="2.4" height="7.2" fill="#cc2b37"/><rect x="614.3" y="276.6" width="2.4" height="3.7" fill="#cc2b37"/><rect x="618.3" y="280.2" width="2.4" height="13.6" fill="#cc2b37"/><rect x="622.3" y="292.9" width="2.4" height="12.0" fill="#cc2b37"/><rect x="626.3" y="304.1" width="2.4" height="32.5" fill="#cc2b37"/><rect x="629.3" y="332.9" width="2.4" height="3.7" fill="#0d8b9b"/><rect x="633.3" y="297.4" width="2.4" height="35.6" fill="#0d8b9b"/><rect x="637.3" y="292.4" width="2.4" height="5.2" fill="#0d8b9b"/><rect x="641.3" y="294.1" width="2.4" height="50.0" fill="#cc2b37"/><rect x="646.3" y="344.1" width="2.4" height="117.5" fill="#cc2b37"/><rect x="650.3" y="447.8" width="2.4" height="13.8" fill="#0d8b9b"/><rect x="653.3" y="448.2" width="2.4" height="48.3" fill="#cc2b37"/><rect x="657.3" y="436.7" width="2.4" height="59.8" fill="#0d8b9b"/><rect x="661.3" y="436.7" width="2.4" height="9.8" fill="#cc2b37"/><rect x="665.3" y="434.6" width="2.4" height="17.0" fill="#0d8b9b"/><rect x="668.3" y="434.6" width="2.4" height="4.5" fill="#cc2b37"/><rect x="672.3" y="439.1" width="2.4" height="27.9" fill="#cc2b37"/><rect x="676.3" y="466.9" width="2.4" height="7.2" fill="#cc2b37"/><rect x="680.3" y="450.3" width="2.4" height="23.0" fill="#0d8b9b"/><rect x="683.3" y="450.3" width="2.4" height="13.3" fill="#cc2b37"/><rect x="687.3" y="465.8" width="2.4" height="33.3" fill="#cc2b37"/><rect x="691.3" y="481.9" width="2.4" height="14.7" fill="#0d8b9b"/><rect x="695.3" y="473.3" width="2.4" height="11.3" fill="#0d8b9b"/><rect x="700.3" y="471.3" width="2.4" height="2.8" fill="#0d8b9b"/><rect x="703.3" y="427.4" width="2.4" height="42.8" fill="#0d8b9b"/><rect x="707.3" y="421.8" width="2.4" height="7.1" fill="#0d8b9b"/><rect x="711.3" y="422.0" width="2.4" height="9.6" fill="#cc2b37"/><rect x="715.3" y="380.1" width="2.4" height="51.3" fill="#0d8b9b"/><rect x="718.3" y="372.0" width="2.4" height="8.8" fill="#0d8b9b"/><rect x="722.3" y="364.3" width="2.4" height="8.3" fill="#0d8b9b"/><rect x="726.3" y="344.1" width="2.4" height="21.1" fill="#0d8b9b"/><rect x="730.3" y="340.4" width="2.4" height="4.7" fill="#0d8b9b"/><rect x="733.3" y="306.6" width="2.4" height="30.0" fill="#0d8b9b"/><rect x="737.3" y="307.9" width="2.4" height="19.8" fill="#cc2b37"/><rect x="741.3" y="327.9" width="2.4" height="15.9" fill="#cc2b37"/><rect x="744.3" y="338.9" width="2.4" height="4.2" fill="#cc2b37"/><rect x="748.3" y="343.1" width="2.4" height="11.8" fill="#cc2b37"/><rect x="753.3" y="355.6" width="2.4" height="3.3" fill="#cc2b37"/><rect x="756.3" y="353.7" width="2.4" height="40.3" fill="#cc2b37"/><rect x="761.3" y="370.4" width="2.4" height="23.6" fill="#0d8b9b"/><rect x="765.3" y="342.9" width="2.4" height="27.5" fill="#0d8b9b"/><rect x="768.3" y="332.6" width="2.4" height="10.7" fill="#0d8b9b"/><rect x="772.3" y="293.8" width="2.4" height="39.1" fill="#0d8b9b"/><rect x="776.3" y="294.3" width="2.4" height="10.7" fill="#cc2b37"/><rect x="780.3" y="261.3" width="2.4" height="41.3" fill="#0d8b9b"/><rect x="783.3" y="247.6" width="2.4" height="13.7" fill="#0d8b9b"/><rect x="787.3" y="247.6" width="2.4" height="4.0" fill="#cc2b37"/><rect x="791.3" y="248.8" width="2.4" height="11.2" fill="#cc2b37"/><rect x="795.3" y="259.3" width="2.4" height="9.5" fill="#cc2b37"/><rect x="798.3" y="268.8" width="2.4" height="5.0" fill="#cc2b37"/><rect x="802.3" y="271.6" width="2.4" height="37.1" fill="#cc2b37"/><rect x="807.3" y="304.9" width="2.4" height="4.3" fill="#0d8b9b"/><rect x="811.3" y="304.3" width="2.4" height="38.6" fill="#cc2b37"/><rect x="815.3" y="339.2" width="2.4" height="3.7" fill="#0d8b9b"/><rect x="818.3" y="339.2" width="2.4" height="11.2" fill="#cc2b37"/><rect x="822.3" y="334.2" width="2.4" height="17.3" fill="#0d8b9b"/><rect x="826.3" y="335.9" width="2.4" height="2.8" fill="#cc2b37"/><rect x="830.3" y="338.2" width="2.4" height="27.1" fill="#cc2b37"/><rect x="833.3" y="364.5" width="2.4" height="12.0" fill="#cc2b37"/><rect x="837.3" y="372.0" width="2.4" height="5.8" fill="#0d8b9b"/><rect x="841.3" y="368.2" width="2.4" height="3.8" fill="#0d8b9b"/><rect x="845.3" y="366.5" width="2.4" height="33.5" fill="#cc2b37"/><rect x="848.3" y="400.3" width="2.4" height="31.0" fill="#cc2b37"/><rect x="852.3" y="430.8" width="2.4" height="13.3" fill="#cc2b37"/><rect x="856.3" y="442.9" width="2.4" height="25.0" fill="#cc2b37"/><rect x="861.3" y="466.3" width="2.4" height="24.0" fill="#cc2b37"/><rect x="865.3" y="489.6" width="2.4" height="11.2" fill="#cc2b37"/><rect x="868.3" y="451.3" width="2.4" height="46.6" fill="#0d8b9b"/><rect x="872.3" y="451.9" width="2.4" height="11.0" fill="#cc2b37"/><rect x="876.3" y="462.9" width="2.4" height="56.1" fill="#cc2b37"/><rect x="880.3" y="504.6" width="2.4" height="14.5" fill="#0d8b9b"/><rect x="883.3" y="451.3" width="2.4" height="52.8" fill="#0d8b9b"/><rect x="887.3" y="450.3" width="2.4" height="36.3" fill="#cc2b37"/><rect x="891.3" y="492.9" width="2.4" height="8.7" fill="#cc2b37"/><rect x="895.3" y="500.7" width="2.4" height="10.8" fill="#cc2b37"/><rect x="898.3" y="511.5" width="2.4" height="10.0" fill="#cc2b37"/><rect x="902.3" y="512.4" width="2.4" height="9.2" fill="#0d8b9b"/><rect x="906.3" y="511.9" width="2.4" height="14.7" fill="#cc2b37"/><rect x="911.3" y="512.9" width="2.4" height="13.3" fill="#0d8b9b"/><rect x="915.3" y="493.2" width="2.4" height="20.8" fill="#0d8b9b"/><rect x="918.3" y="493.3" width="2.4" height="45.0" fill="#cc2b37"/><rect x="922.3" y="538.2" width="2.4" height="20.0" fill="#cc2b37"/><rect x="926.3" y="539.0" width="2.4" height="19.2" fill="#0d8b9b"/><rect x="930.3" y="533.0" width="2.4" height="6.7" fill="#0d8b9b"/><rect x="933.3" y="515.1" width="2.4" height="18.1" fill="#0d8b9b"/><rect x="937.3" y="519.9" width="2.4" height="67.5" fill="#cc2b37"/><rect x="941.3" y="577.9" width="2.4" height="10.0" fill="#0d8b9b"/><rect x="945.3" y="577.9" width="2.4" height="17.8" fill="#cc2b37"/><rect x="948.3" y="577.9" width="2.4" height="17.8" fill="#0d8b9b"/><rect x="952.3" y="560.7" width="2.4" height="18.3" fill="#0d8b9b"/><rect x="956.3" y="560.7" width="2.4" height="8.8" fill="#cc2b37"/><rect x="960.3" y="529.6" width="2.4" height="35.6" fill="#0d8b9b"/><rect x="965.3" y="505.8" width="2.4" height="24.1" fill="#0d8b9b"/><rect x="968.3" y="445.3" width="2.4" height="60.4" fill="#0d8b9b"/><rect x="972.3" y="429.1" width="2.4" height="16.2" fill="#0d8b9b"/><rect x="976.3" y="429.6" width="2.4" height="8.3" fill="#cc2b37"/><rect x="980.3" y="432.9" width="2.4" height="3.7" fill="#0d8b9b"/><rect x="983.3" y="436.9" width="2.4" height="92.0" fill="#cc2b37"/><rect x="987.3" y="490.3" width="2.4" height="38.8" fill="#0d8b9b"/><rect x="991.3" y="490.0" width="2.4" height="27.0" fill="#cc2b37"/><rect x="995.3" y="483.6" width="2.4" height="33.8" fill="#0d8b9b"/><rect x="998.3" y="485.3" width="2.4" height="23.3" fill="#cc2b37"/><rect x="1002.3" y="507.9" width="2.4" height="4.0" fill="#0d8b9b"/><rect x="1006.3" y="511.9" width="2.4" height="26.3" fill="#cc2b37"/><rect x="1010.3" y="525.7" width="2.4" height="11.7" fill="#0d8b9b"/><rect x="1013.3" y="526.2" width="2.4" height="6.2" fill="#cc2b37"/><rect x="1018.3" y="524.1" width="2.4" height="7.5" fill="#0d8b9b"/><rect x="1022.3" y="511.9" width="2.4" height="13.3" fill="#0d8b9b"/><rect x="1026.3" y="506.9" width="2.4" height="6.3" fill="#0d8b9b"/><rect x="1030.3" y="450.7" width="2.4" height="58.3" fill="#0d8b9b"/><rect x="1033.3" y="450.7" width="2.4" height="36.1" fill="#cc2b37"/><rect x="1037.3" y="486.9" width="2.4" height="6.0" fill="#cc2b37"/><rect x="1041.3" y="492.9" width="2.4" height="5.3" fill="#cc2b37"/><rect x="1045.3" y="439.6" width="2.4" height="59.4" fill="#0d8b9b"/><rect x="1048.3" y="435.8" width="2.4" height="4.5" fill="#0d8b9b"/><rect x="1052.3" y="432.9" width="2.4" height="4.0" fill="#0d8b9b"/><rect x="1056.3" y="434.1" width="2.4" height="3.8" fill="#0d8b9b"/><rect x="1060.3" y="386.3" width="2.4" height="47.8" fill="#0d8b9b"/><rect x="1063.3" y="386.6" width="2.4" height="5.0" fill="#cc2b37"/><rect x="1067.3" y="391.6" width="2.4" height="20.0" fill="#cc2b37"/><rect x="1072.3" y="410.3" width="2.4" height="3.8" fill="#0d8b9b"/><rect x="1076.3" y="413.0" width="2.4" height="29.5" fill="#cc2b37"/><rect x="1080.3" y="441.3" width="2.4" height="32.8" fill="#cc2b37"/><rect x="1083.3" y="474.9" width="2.4" height="19.1" fill="#cc2b37"/><rect x="1087.3" y="494.0" width="2.4" height="7.5" fill="#cc2b37"/><rect x="1091.3" y="484.0" width="2.4" height="16.2" fill="#0d8b9b"/><rect x="1095.3" y="485.2" width="2.4" height="30.5" fill="#cc2b37"/><rect x="1098.3" y="512.9" width="2.4" height="4.0" fill="#cc2b37"/><rect x="1102.3" y="509.5" width="2.4" height="6.2" fill="#0d8b9b"/><rect x="1106.3" y="439.6" width="2.4" height="68.3" fill="#0d8b9b"/><rect x="1110.3" y="439.6" width="2.4" height="3.3" fill="#cc2b37"/><rect x="1113.3" y="441.3" width="2.4" height="4.0" fill="#0d8b9b"/><rect x="1117.3" y="441.6" width="2.4" height="3.7" fill="#cc2b37"/><rect x="1121.3" y="437.4" width="2.4" height="12.8" fill="#0d8b9b"/><rect x="1126.3" y="438.3" width="2.4" height="3.7" fill="#cc2b37"/><rect x="1130.3" y="439.6" width="2.4" height="6.7" fill="#cc2b37"/><rect x="1133.3" y="445.3" width="2.4" height="17.6" fill="#cc2b37"/><rect x="1137.3" y="432.4" width="2.4" height="30.8" fill="#0d8b9b"/><rect x="1141.3" y="432.9" width="2.4" height="3.7" fill="#cc2b37"/><rect x="1145.3" y="432.9" width="2.4" height="26.1" fill="#cc2b37"/><rect x="1148.3" y="459.1" width="2.4" height="6.2" fill="#cc2b37"/><rect x="1152.3" y="458.2" width="2.4" height="7.5" fill="#0d8b9b"/><rect x="1156.3" y="456.9" width="2.4" height="5.5" fill="#cc2b37"/><rect x="1160.3" y="461.6" width="2.4" height="3.7" fill="#0d8b9b"/><rect x="1163.3" y="454.6" width="2.4" height="8.7" fill="#0d8b9b"/><rect x="1167.3" y="456.9" width="2.4" height="14.7" fill="#cc2b37"/><rect x="1171.3" y="453.2" width="2.4" height="20.0" fill="#0d8b9b"/><rect x="1175.3" y="453.2" width="2.4" height="21.3" fill="#cc2b37"/><rect x="1180.3" y="474.1" width="2.4" height="16.7" fill="#cc2b37"/><rect x="1183.3" y="470.2" width="2.4" height="18.8" fill="#0d8b9b"/><rect x="1187.3" y="470.2" width="2.4" height="6.3" fill="#cc2b37"/><rect x="1191.3" y="440.8" width="2.4" height="34.5" fill="#0d8b9b"/><rect x="1195.3" y="405.0" width="2.4" height="36.6" fill="#0d8b9b"/><rect x="1198.3" y="385.0" width="2.4" height="21.3" fill="#0d8b9b"/><rect x="1202.3" y="364.9" width="2.4" height="21.4" fill="#0d8b9b"/><rect x="1206.3" y="344.1" width="2.4" height="20.8" fill="#0d8b9b"/><rect x="1210.3" y="345.3" width="2.4" height="120.0" fill="#cc2b37"/><rect x="1214.3" y="464.6" width="2.4" height="25.3" fill="#cc2b37"/><rect x="1217.3" y="489.5" width="2.4" height="18.3" fill="#cc2b37"/><rect x="1221.3" y="454.6" width="2.4" height="53.3" fill="#0d8b9b"/><rect x="1225.3" y="419.1" width="2.4" height="35.8" fill="#0d8b9b"/><rect x="1230.3" y="364.1" width="2.4" height="55.0" fill="#0d8b9b"/><rect x="1233.3" y="364.6" width="2.4" height="3.3" fill="#cc2b37"/><rect x="1237.3" y="326.6" width="2.4" height="46.3" fill="#0d8b9b"/><rect x="1241.3" y="328.0" width="2.4" height="46.1" fill="#cc2b37"/><rect x="1245.3" y="326.6" width="2.4" height="46.3" fill="#0d8b9b"/><rect x="1248.3" y="319.1" width="2.4" height="9.5" fill="#0d8b9b"/><rect x="1252.3" y="319.1" width="2.4" height="12.5" fill="#cc2b37"/><rect x="1256.3" y="331.6" width="2.4" height="3.3" fill="#0d8b9b"/><rect x="1259.3" y="323.3" width="2.4" height="7.0" fill="#0d8b9b"/><rect x="1263.3" y="301.7" width="2.4" height="22.5" fill="#0d8b9b"/><rect x="1267.3" y="303.6" width="2.4" height="16.3" fill="#cc2b37"/><rect x="1271.3" y="320.3" width="2.4" height="10.0" fill="#cc2b37"/><rect x="1275.3" y="330.0" width="2.4" height="11.3" fill="#cc2b37"/><rect x="1278.3" y="340.8" width="2.4" height="6.7" fill="#cc2b37"/><rect x="1283.3" y="351.6" width="2.4" height="28.6" fill="#cc2b37"/><rect x="1287.3" y="380.2" width="2.4" height="69.7" fill="#cc2b37"/><rect x="1291.3" y="450.3" width="2.4" height="41.3" fill="#cc2b37"/><rect x="1294.3" y="470.0" width="2.4" height="22.0" fill="#0d8b9b"/><rect x="1298.3" y="469.6" width="2.4" height="40.6" fill="#cc2b37"/><rect x="1302.3" y="509.6" width="2.4" height="15.7" fill="#cc2b37"/><rect x="1306.3" y="519.9" width="2.4" height="6.7" fill="#cc2b37"/><rect x="1310.3" y="526.6" width="2.4" height="5.3" fill="#cc2b37"/><rect x="1313.3" y="532.0" width="2.4" height="89.6" fill="#cc2b37"/><rect x="1317.3" y="615.7" width="2.4" height="5.5" fill="#0d8b9b"/><rect x="1321.3" y="578.3" width="2.4" height="37.5" fill="#0d8b9b"/><rect x="1325.3" y="578.3" width="2.4" height="12.5" fill="#cc2b37"/><rect x="1328.3" y="523.3" width="2.4" height="69.9" fill="#0d8b9b"/><rect x="1332.3" y="524.6" width="2.4" height="27.0" fill="#cc2b37"/><rect x="1337.3" y="540.8" width="2.4" height="10.8" fill="#0d8b9b"/><rect x="1341.3" y="540.8" width="2.4" height="20.8" fill="#cc2b37"/><rect x="1345.3" y="520.8" width="2.4" height="40.8" fill="#0d8b9b"/><rect x="1348.3" y="520.8" width="2.4" height="61.6" fill="#cc2b37"/><rect x="1352.3" y="582.9" width="2.4" height="4.0" fill="#0d8b9b"/><rect x="1356.3" y="534.6" width="2.4" height="49.5" fill="#0d8b9b"/><rect x="1360.3" y="528.6" width="2.4" height="6.0" fill="#0d8b9b"/><rect x="1363.3" y="511.9" width="2.4" height="17.1" fill="#0d8b9b"/><rect x="1367.3" y="499.6" width="2.4" height="13.3" fill="#0d8b9b"/><rect x="1371.3" y="494.6" width="2.4" height="7.3" fill="#0d8b9b"/><rect x="1375.3" y="477.4" width="2.4" height="19.1" fill="#0d8b9b"/><rect x="1378.3" y="479.6" width="2.4" height="30.6" fill="#cc2b37"/><rect x="1382.3" y="509.6" width="2.4" height="11.7" fill="#cc2b37"/><rect x="1386.3" y="520.2" width="2.4" height="11.3" fill="#cc2b37"/><rect x="1391.3" y="531.9" width="2.4" height="3.3" fill="#cc2b37"/><rect x="1395.3" y="518.2" width="2.4" height="17.5" fill="#0d8b9b"/><rect x="1398.3" y="514.9" width="2.4" height="3.3" fill="#cc2b37"/><rect x="1402.3" y="517.4" width="2.4" height="13.8" fill="#cc2b37"/><rect x="1406.3" y="510.2" width="2.4" height="21.0" fill="#0d8b9b"/><rect x="1410.3" y="510.7" width="2.4" height="20.5" fill="#cc2b37"/><rect x="1413.3" y="530.7" width="2.4" height="18.3" fill="#cc2b37"/><rect x="1417.3" y="540.7" width="2.4" height="8.8" fill="#0d8b9b"/><rect x="1421.3" y="529.1" width="2.4" height="15.5" fill="#0d8b9b"/><rect x="1425.3" y="494.1" width="2.4" height="36.6" fill="#0d8b9b"/><rect x="1428.3" y="473.3" width="2.4" height="22.0" fill="#0d8b9b"/><rect x="1432.3" y="457.0" width="2.4" height="17.1" fill="#0d8b9b"/><rect x="1436.3" y="457.0" width="2.4" height="12.2" fill="#cc2b37"/><rect x="1440.3" y="468.3" width="2.4" height="8.3" fill="#cc2b37"/><rect x="1445.3" y="443.6" width="2.4" height="34.6" fill="#0d8b9b"/><rect x="1448.3" y="443.6" width="2.4" height="19.3" fill="#cc2b37"/><rect x="1452.3" y="462.0" width="2.4" height="7.2" fill="#cc2b37"/><rect x="1456.3" y="468.6" width="2.4" height="13.3" fill="#cc2b37"/><rect x="1460.3" y="481.6" width="2.4" height="3.7" fill="#cc2b37"/><rect x="1463.3" y="482.9" width="2.4" height="3.7" fill="#0d8b9b"/><rect x="1467.3" y="485.8" width="2.4" height="20.0" fill="#cc2b37"/><rect x="1471.3" y="505.7" width="2.4" height="62.4" fill="#cc2b37"/><rect x="1475.3" y="536.9" width="2.4" height="31.0" fill="#0d8b9b"/><rect x="1478.3" y="537.4" width="2.4" height="12.8" fill="#cc2b37"/><rect x="1482.3" y="533.2" width="2.4" height="17.0" fill="#0d8b9b"/><rect x="1486.3" y="516.9" width="2.4" height="16.3" fill="#0d8b9b"/><rect x="1490.3" y="514.6" width="2.4" height="5.3" fill="#0d8b9b"/><rect x="1495.3" y="514.6" width="2.4" height="5.0" fill="#cc2b37"/><rect x="1498.3" y="519.6" width="2.4" height="35.6" fill="#cc2b37"/><rect x="1502.3" y="555.8" width="2.4" height="11.2" fill="#cc2b37"/><rect x="1506.3" y="566.9" width="2.4" height="15.0" fill="#cc2b37"/><rect x="1510.3" y="581.9" width="2.4" height="8.0" fill="#cc2b37"/><rect x="1513.3" y="589.1" width="2.4" height="9.2" fill="#cc2b37"/><rect x="1517.3" y="598.6" width="2.4" height="4.7" fill="#cc2b37"/><rect x="1521.3" y="595.7" width="2.4" height="8.3" fill="#0d8b9b"/><rect x="1525.3" y="595.7" width="2.4" height="21.6" fill="#cc2b37"/><rect x="1528.3" y="617.4" width="2.4" height="3.8" fill="#cc2b37"/><rect x="1532.3" y="619.9" width="2.4" height="20.8" fill="#cc2b37"/><rect x="1536.3" y="635.9" width="2.4" height="42.1" fill="#cc2b37"/><rect x="1540.3" y="647.2" width="2.4" height="32.0" fill="#0d8b9b"/><rect x="1543.3" y="630.9" width="2.4" height="15.7" fill="#0d8b9b"/><rect x="1548.3" y="625.9" width="2.4" height="3.8" fill="#0d8b9b"/><rect x="1552.3" y="625.9" width="2.4" height="17.0" fill="#cc2b37"/><rect x="1556.3" y="642.2" width="2.4" height="55.9" fill="#cc2b37"/><rect x="1560.3" y="695.0" width="2.4" height="3.8" fill="#0d8b9b"/><rect x="1563.3" y="682.4" width="2.4" height="11.9" fill="#0d8b9b"/><rect x="1567.3" y="673.6" width="2.4" height="8.2" fill="#0d8b9b"/><rect x="1571.3" y="674.9" width="2.4" height="20.7" fill="#cc2b37"/><rect x="1575.3" y="676.1" width="2.4" height="19.5" fill="#0d8b9b"/><rect x="1578.3" y="672.4" width="2.4" height="4.6" fill="#0d8b9b"/><rect x="1582.3" y="638.1" width="2.4" height="34.3" fill="#0d8b9b"/><rect x="1586.3" y="638.4" width="2.4" height="10.9" fill="#cc2b37"/><rect x="1590.3" y="648.5" width="2.4" height="18.2" fill="#cc2b37"/></g>
</g>
<rect x="692.2" y="519.4" width="1041.2" height="7.5" fill="rgba(255,255,255,0.25)" stroke="#3a3a3a" stroke-width="1.5"/>
<rect x="70.8" y="827.4" width="1667" height="5.5" fill="rgba(255,255,255,0.25)" stroke="#3a3a3a" stroke-width="1.5"/>
<line x1="1241.9" y1="283" x2="1609.3" y2="529.7" stroke="#ff7600" stroke-width="6.5" stroke-linecap="round"/>
<line x1="922.7" y1="613.9" x2="1627" y2="670.7" stroke="#ff7600" stroke-width="6.2" stroke-linecap="round"/>
<polygon filter="url(#sh)" fill="#437a80" points="1670.7,579.1 1675.1,603.8 1670.5,599.7 1645.3,651.3 1643.9,650.3 1658,595.4 1651.4,595.4"/>
<polygon filter="url(#sh)" fill="#fe0808" points="1642.7,689 1662.2,736.7 1667.5,732.3 1661,756.8 1643.4,739.5 1649.6,740.5"/>
<rect x="0" y="893.5" width="300" height="46" fill="rgba(255,255,255,0.78)"/>
<rect x="1845.1" y="124" width="1.2" height="824.6" fill="#6a6a6a"/>
<rect x="0" y="947.6" width="1846.3" height="1.2" fill="#7a7a7a"/>
<rect x="1846" y="857.4" width="4" height="1" fill="#777"/>
<text transform="translate(1853.2 861.2) scale(0.915 1)" class="yl">30500</text>
<rect x="1846" y="763.9" width="4" height="1" fill="#777"/>
<text transform="translate(1853.2 767.7) scale(0.915 1)" class="yl">31000</text>
<rect x="1846" y="670.4" width="4" height="1" fill="#777"/>
<rect x="1846" y="576.9" width="4" height="1" fill="#777"/>
<text transform="translate(1853.2 580.7) scale(0.915 1)" class="yl">32000</text>
<rect x="1846" y="483.4" width="4" height="1" fill="#777"/>
<text transform="translate(1853.2 487.2) scale(0.915 1)" class="yl">32500</text>
<rect x="1846" y="389.9" width="4" height="1" fill="#777"/>
<text transform="translate(1853.2 393.7) scale(0.915 1)" class="yl">33000</text>
<rect x="1846" y="296.4" width="4" height="1" fill="#777"/>
<text transform="translate(1853.2 300.2) scale(0.915 1)" class="yl">33500</text>
<rect x="1846" y="202.9" width="4" height="1" fill="#777"/>
<text transform="translate(1853.2 206.7) scale(0.915 1)" class="yl">34000</text>
<rect x="96.1" y="948" width="1" height="4.5" fill="#777"/>
<text x="96.6" y="967.5" class="xl" text-anchor="middle">21</text>
<rect x="211.1" y="948" width="1" height="4.5" fill="#777"/>
<text x="211.6" y="967.5" class="xl" text-anchor="middle">28</text>
<rect x="278.8" y="948" width="1" height="4.5" fill="#777"/>
<text x="279.3" y="967.5" class="xl" text-anchor="middle">Jun</text>
<rect x="372.6" y="948" width="1" height="4.5" fill="#777"/>
<text x="373.1" y="967.5" class="xl" text-anchor="middle">7</text>
<rect x="488.7" y="948" width="1" height="4.5" fill="#777"/>
<text x="489.2" y="967.5" class="xl" text-anchor="middle">14</text>
<rect x="600.3" y="948" width="1" height="4.5" fill="#777"/>
<text x="600.8" y="967.5" class="xl" text-anchor="middle">21</text>
<rect x="715.2" y="948" width="1" height="4.5" fill="#777"/>
<text x="715.7" y="967.5" class="xl" text-anchor="middle">28</text>
<rect x="779.0" y="948" width="1" height="4.5" fill="#777"/>
<text x="779.5" y="967.5" class="xl" text-anchor="middle">Jul</text>
<rect x="872.8" y="948" width="1" height="4.5" fill="#777"/>
<text x="873.3" y="967.5" class="xl" text-anchor="middle">7</text>
<rect x="987.7" y="948" width="1" height="4.5" fill="#777"/>
<text x="988.2" y="967.5" class="xl" text-anchor="middle">14</text>
<rect x="1102.8" y="948" width="1" height="4.5" fill="#777"/>
<text x="1103.3" y="967.5" class="xl" text-anchor="middle">21</text>
<rect x="1262.6" y="948" width="1" height="4.5" fill="#777"/>
<text x="1263.1" y="967.5" class="xl" text-anchor="middle">Aug</text>
<rect x="1356.1" y="948" width="1" height="4.5" fill="#777"/>
<text x="1356.6" y="967.5" class="xl" text-anchor="middle">7</text>
<rect x="1471.3" y="948" width="1" height="4.5" fill="#777"/>
<text x="1471.8" y="967.5" class="xl" text-anchor="middle">14</text>
<rect x="1586.3" y="948" width="1" height="4.5" fill="#777"/>
<text x="1586.8" y="967.5" class="xl" text-anchor="middle">21</text>
<rect x="1743.9" y="948" width="1" height="4.5" fill="#777"/>
<text x="1744.4" y="967.5" class="xl" text-anchor="middle">28</text>
<path d="M1846.8 665.5 L1857.5 655.6 H1901.5 Q1904 655.6 1904 658 V673 Q1904 675.4 1901.5 675.4 H1857.5 Z" fill="#5f5ba7"/>
<text transform="translate(1864 670.9) scale(0.905 1)" class="pt">31526</text>
<text x="19.6" y="158.8" class="ttl">JAPAN 225, DAILY</text>
<text y="912.6" class="st"><tspan x="13" fill="#a9a9a9">TODAY:</tspan><tspan x="79.2" fill="#a9a9a9">H:</tspan><tspan x="95.7" fill="#222">31786</tspan><tspan x="143" fill="#a9a9a9">L:</tspan><tspan x="156.6" fill="#222">31286</tspan><tspan x="210" fill="#2a98a8">100</tspan><tspan x="260" fill="#2a98a8">0.3%</tspan></text>
<text y="929.7" class="st"><tspan x="13" fill="#a9a9a9">CHART:</tspan><tspan x="79.2" fill="#a9a9a9">H:</tspan><tspan x="95.7" fill="#222">34014</tspan><tspan x="143" fill="#a9a9a9">L:</tspan><tspan x="156.6" fill="#222">29636</tspan><tspan x="210" fill="#2a98a8">1870</tspan><tspan x="260" fill="#2a98a8">6.3%</tspan></text>
<g fill="none" stroke="#666" stroke-width="1.4">
<path d="M1489 916.8 L1491.8 914 L1499.5 921.7 L1502.3 918.9 L1503.8 928.4 L1494.3 926.9 L1497.1 924.1 Z" fill="#666" stroke="none"/>
<path d="M1520.3 928.3 C1519.3 916 1535.5 927 1535.2 913.8" stroke-width="2.8" stroke-linecap="round"/>
<path d="M1545 909.6H1570M1545 932.9H1570" stroke-width="1.6"/>
<path d="M1545 915H1570M1545 926.8H1570" stroke-width="2.6" stroke-dasharray="6.8 2.9"/>
<path d="M1545 919.6H1570M1545 922.4H1570" stroke-width="1" stroke="#bbb" stroke-dasharray="6.8 2.9"/>
<path d="M1575.6 909V933H1600.3M1575.6 933L1588.4 913M1575.6 933L1597 920.6" stroke-width="1.3"/>
<path d="M1605.3 920.9H1630.2" stroke-width="1.5"/>
<path d="M1638.3 912.1L1657 931.2" stroke-width="1.6"/>
<rect x="1635.6" y="909.4" width="5.4" height="5.4" rx="1" fill="#666" stroke="none"/><rect x="1654.3" y="928.5" width="5.4" height="5.4" rx="1" fill="#666" stroke="none"/>
<rect x="1668.3" y="912.6" width="18.6" height="18.6" stroke="#8a8a8a" stroke-width="1.5"/>
<path d="M1728.7 929.4L1745.6 913.2" stroke-width="1.5"/>
<path d="M1767.5 910.5V933.8" stroke-width="1.5"/>
</g>
<text x="1697.5" y="924.3" style="font:11px 'Liberation Sans',sans-serif" fill="#666">Abc</text><rect x="1696.5" y="926" width="22.5" height="1" fill="#666"/>
<g transform="translate(1796.4 922.4) rotate(-42)"><rect x="-13.8" y="-3" width="27.6" height="6" fill="#666"/><path d="M-11 3v-2.6M-8 3v-1.8M-5 3v-2.6M-2 3v-1.8M1 3v-2.6M4 3v-1.8M7 3v-2.6M10 3v-1.8" stroke="#ddd" stroke-width="0.8"/></g>
<path d="M1818.2 916.5L1827.4 926.2M1827.4 916.5L1818.2 926.2" stroke="#aaa" stroke-width="2.6"/>
</svg>
</body></html>
